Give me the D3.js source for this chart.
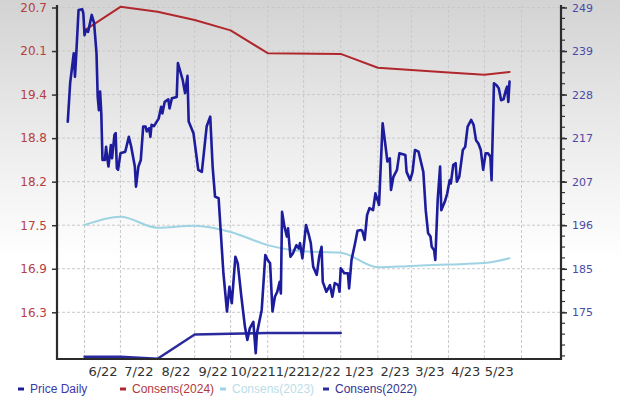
<!DOCTYPE html>
<html>
<head>
<meta charset="utf-8">
<script src="https://cdn.jsdelivr.net/npm/d3@7"></script>
<style>
html,body{margin:0;padding:0;background:#fff;}
svg{display:block;}
</style>
</head>
<body>
<svg id="chart" width="620" height="400"></svg>
<script>
// ---------- DATA ----------
const priceDates = ["2022-05-18","2022-05-20","2022-05-23","2022-05-24","2022-05-25","2022-05-27","2022-05-30","2022-05-31","2022-06-01","2022-06-02","2022-06-04","2022-06-07","2022-06-09","2022-06-11","2022-06-12","2022-06-13","2022-06-14","2022-06-15","2022-06-16","2022-06-18","2022-06-19","2022-06-20","2022-06-21","2022-06-23","2022-06-24","2022-06-26","2022-06-27","2022-06-28","2022-06-29","2022-07-01","2022-07-05","2022-07-08","2022-07-10","2022-07-13","2022-07-14","2022-07-16","2022-07-18","2022-07-20","2022-07-22","2022-07-23","2022-07-25","2022-07-26","2022-07-27","2022-07-29","2022-08-02","2022-08-04","2022-08-05","2022-08-07","2022-08-10","2022-08-11","2022-08-13","2022-08-17","2022-08-18","2022-08-22","2022-08-24","2022-08-26","2022-08-27","2022-08-31","2022-09-04","2022-09-07","2022-09-11","2022-09-14","2022-09-16","2022-09-18","2022-09-21","2022-09-25","2022-09-28","2022-09-30","2022-10-02","2022-10-05","2022-10-07","2022-10-10","2022-10-13","2022-10-15","2022-10-17","2022-10-20","2022-10-22","2022-10-23","2022-10-27","2022-10-30","2022-11-01","2022-11-03","2022-11-05","2022-11-07","2022-11-09","2022-11-11","2022-11-12","2022-11-13","2022-11-15","2022-11-17","2022-11-18","2022-11-20","2022-11-22","2022-11-25","2022-11-27","2022-11-28","2022-11-30","2022-12-03","2022-12-05","2022-12-07","2022-12-09","2022-12-12","2022-12-14","2022-12-16","2022-12-17","2022-12-20","2022-12-23","2022-12-25","2022-12-27","2022-12-30","2022-12-31","2023-01-01","2023-01-04","2023-01-07","2023-01-08","2023-01-10","2023-01-13","2023-01-15","2023-01-18","2023-01-19","2023-01-21","2023-01-23","2023-01-25","2023-01-28","2023-01-30","2023-02-02","2023-02-05","2023-02-07","2023-02-09","2023-02-11","2023-02-12","2023-02-14","2023-02-17","2023-02-19","2023-02-24","2023-02-25","2023-02-28","2023-03-02","2023-03-04","2023-03-07","2023-03-11","2023-03-13","2023-03-15","2023-03-17","2023-03-18","2023-03-20","2023-03-21","2023-03-23","2023-03-25","2023-03-26","2023-03-29","2023-03-31","2023-04-02","2023-04-03","2023-04-05","2023-04-07","2023-04-08","2023-04-10","2023-04-13","2023-04-15","2023-04-17","2023-04-20","2023-04-22","2023-04-24","2023-04-26","2023-04-28","2023-04-30","2023-05-02","2023-05-04","2023-05-06","2023-05-07","2023-05-09","2023-05-11","2023-05-13","2023-05-15","2023-05-17","2023-05-19","2023-05-20","2023-05-21","2023-05-22"];
const priceValues = [221.3,230.7,237.9,232.2,237.1,248.4,248.6,247.6,242.3,243.5,243.1,247.2,245.2,237.9,227.3,224.1,228.6,223.3,212.0,212.0,215.2,212.4,210.4,215.6,212.4,218.1,218.5,210.0,209.6,213.6,214.0,217.6,215.2,210.4,205.5,210.4,212.0,220.1,220.1,218.9,219.7,217.6,220.5,220.2,222.1,224.9,223.3,226.1,226.7,224.5,227.0,227.3,235.5,231.4,228.2,232.4,221.3,218.5,209.6,209.1,220.1,222.5,210.4,203.1,202.7,184.5,175.2,181.2,177.2,188.5,186.9,178.8,171.5,168.3,171.1,172.7,165.1,169.9,175.6,188.9,187.7,186.9,175.2,178.8,180.0,182.4,179.6,199.4,195.8,193.4,195.4,188.5,189.3,191.3,190.5,191.8,188.1,196.2,194.2,191.8,186.1,184.1,188.5,190.9,182.4,180.0,181.6,178.8,182.1,181.6,180.0,185.7,184.5,184.5,180.8,187.7,191.8,194.8,195.0,194.8,192.6,198.6,200.3,199.8,203.9,201.1,220.9,216.4,211.6,212.4,204.7,207.9,209.6,213.6,213.2,209.1,207.1,209.1,214.4,214.0,209.1,199.8,194.2,193.4,190.9,190.1,187.7,202.3,210.4,199.8,201.9,203.9,207.1,206.3,210.8,211.2,206.7,207.9,214.4,215.2,220.1,221.7,220.5,216.8,216.0,214.4,209.6,213.6,213.6,212.8,207.1,230.6,230.2,229.4,226.5,226.7,229.0,229.8,226.1,231.0];

const cons2024Dates = ["2022-06-01","2022-07-01","2022-08-01","2022-09-01","2022-10-01","2022-11-01","2023-01-01","2023-02-01","2023-04-01","2023-05-01","2023-05-22"];
const cons2024Values = [20.37,20.71,20.64,20.52,20.37,20.04,20.03,19.83,19.76,19.73,19.77];

const cons2023Dates = ["2022-06-01","2022-07-01","2022-08-01","2022-09-01","2022-10-01","2022-11-01","2022-12-01","2023-01-01","2023-02-01","2023-03-01","2023-04-01","2023-05-01","2023-05-22"];
const cons2023Values = [17.56,17.68,17.52,17.55,17.46,17.27,17.18,17.16,16.95,16.97,16.99,17.01,17.08];

const cons2022Dates = ["2022-06-01","2022-07-01","2022-08-01","2022-09-01","2022-10-01","2022-11-01","2022-12-01","2023-01-01"];
const cons2022Values = [15.66,15.66,15.63,15.98,15.99,16.0,16.0,16.0];

const xTickDates = ["2022-06-16","2022-07-16","2022-08-16","2022-09-16","2022-10-16","2022-11-16","2022-12-16","2023-01-16","2023-02-15","2023-03-16","2023-04-15","2023-05-13"];
const xTickLabels = ["6/22","7/22","8/22","9/22","10/22","11/22","12/22","1/23","2/23","3/23","4/23","5/23"];
const leftTickLabels = ["20.7","20.1","19.4","18.8","18.2","17.5","16.9","16.3"];
const rightTickLabels = ["249","239","228","217","207","196","185","175"];
const legendLabels = ["Price Daily","Consens(2024)","Consens(2023)","Consens(2022)"];

// ---------- LAYOUT ----------
const W = 620, H = 400;
const L = 57, R = 561, T = 5, B = 359;
const parse = d3.utcParse("%Y-%m-%d");

const svg = d3.select("#chart");
const defs = svg.append("defs");
const grad = defs.append("linearGradient").attr("id","bg").attr("x1",0).attr("y1",0).attr("x2",0).attr("y2",1);
grad.append("stop").attr("offset","0%").attr("stop-color","#d3d3d3");
grad.append("stop").attr("offset","35%").attr("stop-color","#ececec");
grad.append("stop").attr("offset","65%").attr("stop-color","#ffffff");
grad.append("stop").attr("offset","100%").attr("stop-color","#ffffff");
svg.append("rect").attr("width",W).attr("height",H).attr("fill","url(#bg)");

const x = d3.scaleUtc().domain([parse("2022-05-09"), parse("2023-07-04")]).range([L, R]);
const yL = d3.scaleLinear().domain([15.626, 20.736]).range([B, T]);
const yR = d3.scaleLinear().domain([163.68, 249.607]).range([B, T]);

const leftTicks = leftTickLabels.map((_, i) => 20.7 - i * 4.4 / 7);
const rightTicks = rightTickLabels.map((_, i) => 249 - i * 74 / 7);
const rightMinor = [];
for (let v = 249; v > 163.68; v -= 74 / 28) rightMinor.push(v);

// grid
const months = d3.utcMonth.range(parse("2022-06-01"), parse("2023-06-02"));
svg.append("g").selectAll("line").data(months).join("line")
  .attr("x1", d => x(d)).attr("x2", d => x(d)).attr("y1", T).attr("y2", B)
  .attr("stroke", "#c9c9c9").attr("stroke-width", 1).attr("stroke-dasharray", "3,2");
svg.append("g").selectAll("line").data(leftTicks).join("line")
  .attr("x1", L).attr("x2", R).attr("y1", d => yL(d)).attr("y2", d => yL(d))
  .attr("stroke", "#c9c9c9").attr("stroke-width", 1).attr("stroke-dasharray", "3,2");

// lines
function series(dates, vals, y, color, width, curve) {
  const data = dates.map((d, i) => ({ d: parse(d), v: vals[i] }));
  svg.append("path").datum(data)
    .attr("fill", "none").attr("stroke", color).attr("stroke-width", width)
    .attr("stroke-linejoin", "round").attr("stroke-linecap", "round")
    .attr("d", d3.line().x(p => x(p.d)).y(p => y(p.v)).curve(curve || d3.curveLinear));
}
series(cons2024Dates, cons2024Values, yL, "#b0282c", 2);
series(cons2023Dates, cons2023Values, yL, "#9dd3e2", 2, d3.curveMonotoneX);
series(cons2022Dates, cons2022Values, yL, "#2a2a9e", 2.5);
series(priceDates, priceValues, yR, "#1c1c9c", 2.6);

// axes
const axL = svg.append("g").attr("transform", `translate(${L},0)`)
  .call(d3.axisLeft(yL).tickValues(leftTicks).tickFormat((d, i) => leftTickLabels[i]).tickSize(5).tickPadding(5));
axL.select(".domain").remove();
axL.selectAll("line").attr("stroke", "#333").attr("stroke-width", 1.5);
axL.selectAll("text").attr("fill", "#b5403f").style("font-family", "DejaVu Sans, sans-serif").style("font-size", "12px");

const axR = svg.append("g").attr("transform", `translate(${R},0)`)
  .call(d3.axisRight(yR).tickValues(rightTicks).tickFormat((d, i) => rightTickLabels[i]).tickSize(6).tickPadding(5));
axR.select(".domain").remove();
axR.selectAll("line").attr("stroke", "#333").attr("stroke-width", 1.5);
axR.selectAll("text").attr("fill", "#4a4aa6").style("font-family", "DejaVu Sans, sans-serif").style("font-size", "11px");
svg.append("g").selectAll("line").data(rightMinor).join("line")
  .attr("x1", R).attr("x2", R + 4).attr("y1", d => yR(d)).attr("y2", d => yR(d))
  .attr("stroke", "#333").attr("stroke-width", 1.2);

const axB = svg.append("g").attr("transform", `translate(0,${B})`)
  .call(d3.axisBottom(x).tickValues(xTickDates.map(parse)).tickFormat((d, i) => xTickLabels[i]).tickSize(0).tickPadding(8));
axB.select(".domain").remove();
axB.selectAll("text").attr("fill", "#333").style("font-family", "DejaVu Sans, sans-serif").style("font-size", "13px");

// frame lines
svg.append("path").attr("d", `M${L},${T}V${B}H${R}V${T}`)
  .attr("fill", "none").attr("stroke", "#2b2b2b").attr("stroke-width", 2.2);

// legend
const legendColors = ["#1c1c9c", "#b0282c", "#9dd3e2", "#2a2a9e"];
const legendText = ["#3a3aaa", "#b3393a", "#bcdde8", "#34348f"];
const legendX = [18, 120, 220, 323];
const lg = svg.append("g");
legendLabels.forEach((t, i) => {
  lg.append("rect").attr("x", legendX[i]).attr("y", 387.5).attr("width", 6).attr("height", 3).attr("fill", legendColors[i]);
  lg.append("text").attr("x", legendX[i] + 12).attr("y", 393).text(t)
    .attr("fill", legendText[i]).style("font-family", "Liberation Sans, Arial, sans-serif").style("font-size", "12px");
});
</script>
</body>
</html>
